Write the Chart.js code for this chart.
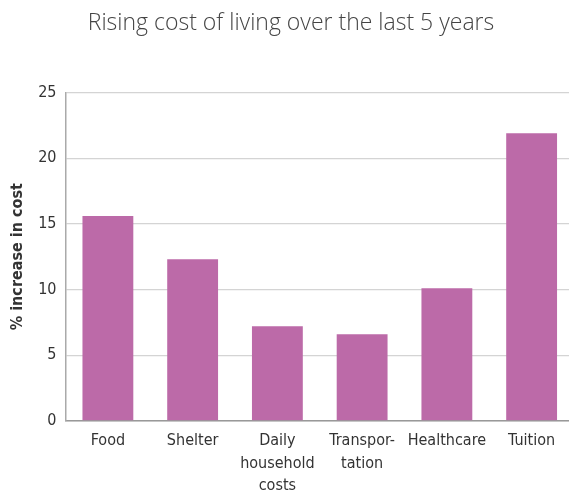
<!DOCTYPE html>
<html>
<head>
<meta charset="utf-8">
<script src="https://cdn.jsdelivr.net/npm/chart.js@4"></script>
<style>
  html, body { margin: 0; padding: 0; background: #fff; overflow: hidden; }
  #wrap { width: 569px; height: 493px; overflow: hidden; }
</style>
</head>
<body>
<div id="wrap"><canvas id="chart" width="574" height="506"></canvas></div>
<script>
const categories = ['Food', 'Shelter', ['Daily', 'household', 'costs'], ['Transpor-', 'tation'], 'Healthcare', 'Tuition'];
const increase = [15.6, 12.3, 7.2, 6.6, 10.1, 21.9];
const yTicks = [0, 5, 10, 15, 20, 25];

const fontFamily = '"DejaVu Sans Condensed", "Liberation Sans Narrow", sans-serif';

new Chart(document.getElementById('chart'), {
  type: 'bar',
  data: {
    labels: categories,
    datasets: [{
      label: '% increase in cost',
      data: increase,
      backgroundColor: '#bc6aa8',
      barPercentage: 0.6,
      categoryPercentage: 1.0
    }]
  },
  options: {
    responsive: false,
    animation: false,
    layout: { padding: { left: 8, right: 0, top: 10, bottom: 0 } },
    plugins: {
      legend: { display: false },
      tooltip: { enabled: false },
      title: {
        display: true,
        text: 'Rising cost of living over the last 5 years',
        color: '#444',
        font: { family: '"Open Sans", sans-serif', size: 23, weight: 300 },
        padding: { top: 0, bottom: 55 }
      }
    },
    scales: {
      x: {
        grid: { display: false, drawTicks: false },
        border: { color: '#999', width: 1.5 },
        ticks: {
          color: '#333',
          font: { family: fontFamily, size: 16, lineHeight: 1.4 },
          maxRotation: 0,
          autoSkip: false,
          padding: 9
        }
      },
      y: {
        min: 0,
        max: 25,
        afterBuildTicks: (axis) => { axis.ticks = yTicks.map(v => ({ value: v })); },
        grid: { color: '#d4d4d4', lineWidth: 1.2, drawTicks: false },
        border: { color: '#aaa', width: 1.5 },
        ticks: {
          color: '#333',
          font: { family: fontFamily, size: 16 },
          padding: 9
        },
        title: {
          display: true,
          text: '% increase in cost',
          color: '#333',
          font: { family: fontFamily, size: 16, weight: 'bold' },
          padding: { top: 0, bottom: 2 }
        }
      }
    }
  }
});
</script>
</body>
</html>
